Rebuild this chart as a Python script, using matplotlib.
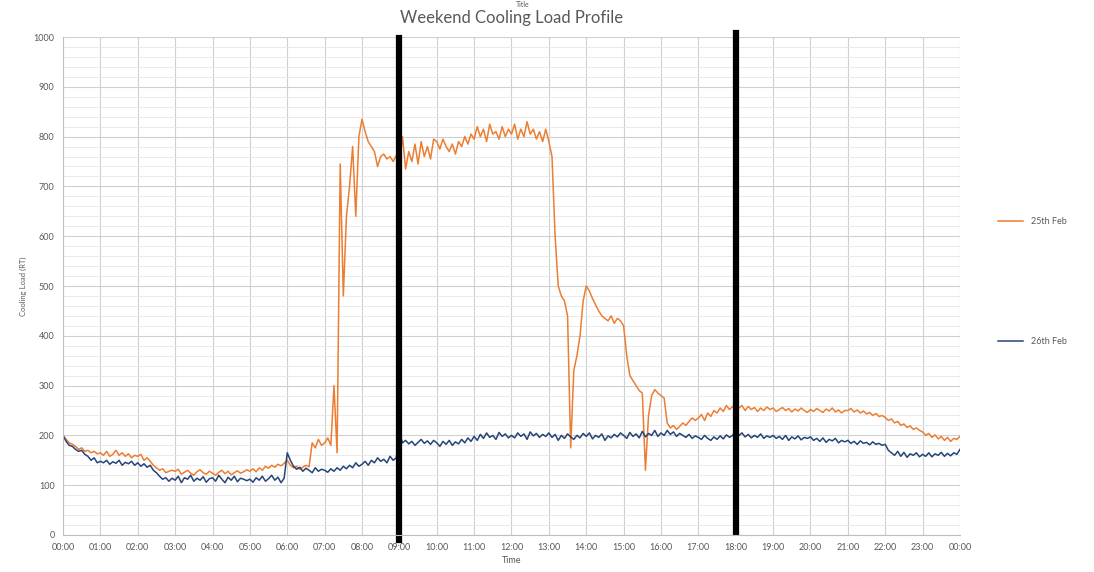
import numpy as np
import matplotlib.pyplot as plt
from matplotlib.ticker import MultipleLocator, FuncFormatter

# readings every 5 minutes, 00:00 -> 24:00
feb25 = [
    200, 192, 185, 182, 178, 172, 175, 168, 170, 165, 168, 163,
    165, 160, 168, 158, 162, 170, 160, 165, 158, 163, 155, 160,
    158, 162, 150, 155, 148, 140, 135, 130, 133, 125, 128, 130,
    128, 132, 122, 126, 130, 124, 120, 127, 131, 125, 122, 128,
    124, 120, 126, 130, 123, 128, 121, 125, 129, 124, 127, 131,
    128, 133, 127, 135, 130, 138, 134, 140, 136, 142, 139, 144,
    150, 140, 135, 138, 132, 136, 140, 137, 185, 175, 192, 180,
    185, 195, 180, 300, 165, 745, 480, 640, 700, 780, 640, 800,
    835, 810, 790, 780, 770, 740, 760, 765, 755, 760, 750, 762,
    745, 800, 735, 770, 750, 785, 745, 790, 760, 780, 755, 795,
    790, 775, 795, 780, 770, 785, 765, 790, 780, 800, 785, 805,
    795, 820, 800, 815, 790, 825, 805, 810, 795, 820, 800, 815,
    805, 825, 795, 815, 800, 830, 805, 815, 795, 810, 790, 815,
    790, 760, 600, 500, 480, 470, 440, 175, 330, 360, 400, 470,
    500, 490, 475, 462, 450, 440, 435, 430, 440, 425, 435, 430,
    420, 360, 320, 310, 300, 290, 285, 130, 240, 280, 292, 285,
    280, 275, 225, 215, 220, 212, 218, 225, 220, 228, 235, 230,
    235, 242, 230, 245, 238, 250, 245, 255, 248, 260, 252, 258,
    262, 255, 260, 250, 258, 252, 256, 248, 255, 250, 257, 252,
    255, 248, 252, 256, 250, 254, 247, 253, 249, 255, 250, 246,
    252, 248, 254, 250, 246, 253, 249, 255, 247, 251, 245, 250,
    250, 254, 247, 251, 245, 249, 243, 246, 240, 244, 238, 240,
    236, 230, 233, 225, 228, 220, 223, 216, 219, 212, 215, 210,
    207, 200, 204, 196, 201, 193, 198, 190, 196, 188, 194, 192,
    198,
]

feb26 = [
    200, 188, 180, 178, 172, 168, 170, 162, 158, 150, 155, 145,
    148, 145, 150, 142, 147, 144, 150, 140, 146, 143, 148, 140,
    145, 138, 143, 136, 140, 130, 125, 118, 112, 115, 108, 114,
    110, 118, 105, 115, 112, 120, 108, 114, 110, 117, 106, 113,
    115, 108, 120, 112, 105, 116, 110, 118, 107, 114, 112, 109,
    112, 106, 115, 110, 118, 108, 113, 120, 110, 116, 105, 114,
    165, 150, 138, 132, 136, 128, 134, 130, 125, 135, 128, 132,
    130, 126, 133, 128, 135, 130, 138, 133, 140, 135, 145, 138,
    142, 148, 140, 150, 145, 155, 148, 152, 145, 158, 150, 155,
    205, 185, 190, 183, 188, 180, 186, 192, 184, 189, 182, 190,
    185, 178, 188, 182, 190, 180, 187, 183, 192, 185, 195, 188,
    198, 190, 202, 194, 205, 196, 200, 192, 206, 198, 203, 195,
    200, 195, 205, 198, 203, 192, 207, 199, 204, 196, 202, 198,
    205, 196, 202, 190, 200, 194, 203, 197, 192, 200, 195, 204,
    198, 205, 193, 200, 196, 203, 190, 199, 195, 202, 197, 205,
    200, 194, 206, 198, 203, 195, 208, 197, 204, 200, 210, 198,
    205, 200, 210, 202, 207, 198, 204, 200, 196, 202, 194, 199,
    196, 192, 200, 194, 190, 197, 192, 199, 193, 201, 196, 200,
    210, 200, 205, 197, 202, 195, 200, 196, 203, 194, 199, 196,
    200, 194, 198, 192, 200, 190, 197, 193, 199, 191, 196, 194,
    197, 190, 194, 188, 195, 186, 192, 189, 194, 185, 190, 187,
    190, 184, 188, 182, 189, 184, 186, 181, 187, 182, 184, 180,
    182, 170, 165, 160, 168, 158, 166, 156, 163, 160, 165, 157,
    162, 158, 165, 157, 163, 160, 166, 158, 164, 159, 165, 162,
    172,
]

hour_labels = ['%02d:00' % h for h in range(24)] + ['00:00']
# thick black markers: hour, bottom and top (axes fraction)
marker_hours = [9, 18]
marker_spans = [(-0.01, 0.998), (0.006, 1.008)]

orange = '#ED7D31'
navy = '#264478'
grey = '#595959'

plt.rcParams['font.family'] = ['Lato', 'DejaVu Sans']

fig = plt.figure(figsize=(10.94, 5.72), dpi=100)
ax = fig.add_axes([0.0576, 0.0647, 0.8199, 0.8706])

t25 = np.arange(len(feb25)) * 5 / 60
t26 = np.arange(len(feb26)) * 5 / 60
ax.plot(t25, feb25, color=orange, lw=1.1, label='25th Feb')
ax.plot(t26, feb26, color=navy, lw=1.1, label='26th Feb')

for h, (lo, hi) in zip(marker_hours, marker_spans):
    ax.axvline(h, ymin=lo, ymax=hi, color='black', lw=4.5, clip_on=False)

ax.set_xlim(0, 24)
ax.set_ylim(0, 1000)
ax.xaxis.set_major_locator(MultipleLocator(1))
ax.xaxis.set_major_formatter(FuncFormatter(lambda v, p: hour_labels[int(round(v))] if 0 <= round(v) < 25 else ''))
ax.yaxis.set_major_locator(MultipleLocator(100))
ax.yaxis.set_minor_locator(MultipleLocator(20))
ax.grid(which='major', color='#d0d0d0', lw=0.8)
ax.grid(which='minor', axis='y', color='#e6e6e6', lw=0.6)
ax.set_axisbelow(True)

for s in ['top', 'right']:
    ax.spines[s].set_visible(False)
for s in ['left', 'bottom']:
    ax.spines[s].set_color('#bfbfbf')
ax.tick_params(which='both', length=0, labelsize=6.5, labelcolor=grey, pad=6)

ax.set_title('Weekend Cooling Load Profile', fontsize=12, color=grey, pad=10)
fig.text(0.478, 0.999, 'Title', fontsize=5, color=grey, ha='center', va='top')
ax.set_xlabel('Time', fontsize=6.5, color=grey, labelpad=3)
ax.set_ylabel('Cooling Load (RT)', fontsize=5.5, color=grey, labelpad=5)

fig.legend(loc='upper left', bbox_to_anchor=(0.905, 0.635), frameon=False,
           fontsize=6.5, labelcolor=grey, handlelength=2.8, labelspacing=12.3)

fig.savefig('out.png', dpi=100)
